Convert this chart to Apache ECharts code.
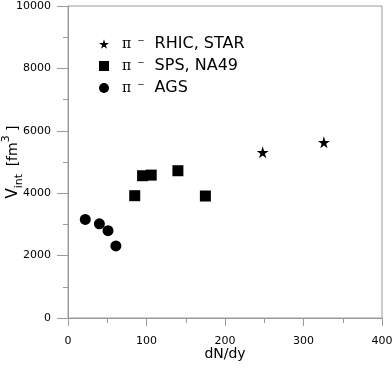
<!DOCTYPE html>
<html>
<head>
<meta charset="utf-8">
<script src="https://cdn.jsdelivr.net/npm/echarts@6/dist/echarts.min.js"></script>
<style>
  html, body { margin: 0; padding: 0; background: #fff; }
  #chart { width: 392px; height: 369px; }
</style>
</head>
<body>
<div id="chart"></div>
<script>
// dN/dy vs V_int
var starData = [[248, 5310], [326, 5630]];
var spsData = [[85, 3920], [95, 4560], [106, 4580], [140, 4720], [175, 3910]];
var agsData = [[22, 3160], [40, 3020], [51, 2800], [61, 2310]];

var seriesNames = ['RHIC, STAR', 'SPS, NA49', 'AGS'];
var xTicks = [0, 100, 200, 300, 400];
var yTicks = [0, 2000, 4000, 6000, 8000, 10000];

var starPath = 'path://M50,0 L61,35 L98,35 L68,57 L79,91 L50,70 L21,91 L32,57 L2,35 L39,35 Z';

~function () {
    var myChart = echarts.init(document.getElementById('chart'));
    var axisColor = '#9a9a9a';
    var font = 'DejaVu Sans';
    var option = {
        backgroundColor: '#fff',
        animation: false,
        textStyle: {fontFamily: font},
        grid: {
            left: 68, top: 6, right: 10, bottom: 51,
            outerBoundsMode: 'none',
            containLabel: false,
            show: true, borderColor: axisColor, borderWidth: 1
        },
        legend: {
            orient: 'vertical',
            left: 94,
            top: 31,
            itemWidth: 10,
            itemHeight: 10,
            itemGap: 6,
            data: [
                {name: seriesNames[0], icon: starPath},
                {name: seriesNames[1], icon: 'rect'},
                {name: seriesNames[2], icon: 'circle'}
            ],
            formatter: function (name) {
                return '{p|π}{m|⁻}{t|' + name + '}';
            },
            textStyle: {
                rich: {
                    p: {fontSize: 14, fontFamily: 'DejaVu Serif', color: '#000', padding: [0, 6, 0, 8], lineHeight: 17},
                    m: {fontSize: 14, color: '#000', padding: [0, 10, 0, 0], lineHeight: 17},
                    t: {fontSize: 16, color: '#000', lineHeight: 17}
                }
            }
        },
        xAxis: {
            type: 'value',
            min: 0, max: 400, interval: 100,
            name: 'dN/dy',
            nameLocation: 'middle',
            nameGap: 29,
            nameMoveOverlap: false,
            nameTextStyle: {fontSize: 14, color: '#000'},
            axisLine: {lineStyle: {color: axisColor}},
            axisTick: {show: true, length: 8, inside: false, lineStyle: {color: axisColor}},
            minorTick: {show: true, splitNumber: 2, length: 5, lineStyle: {color: axisColor}},
            axisLabel: {
                fontSize: 11, color: '#000', margin: 18,
                formatter: function (v) { return xTicks.indexOf(v) >= 0 ? String(v) : ''; }
            },
            splitLine: {show: false}
        },
        yAxis: {
            type: 'value',
            min: 0, max: 10000, interval: 2000,
            name: '{v|V}{s|int}  {b|[fm}{p|3}{b| ]}',
            nameLocation: 'middle',
            nameRotate: 90,
            nameGap: 43,
            nameMoveOverlap: false,
            nameTextStyle: {
                color: '#000',
                rich: {
                    v: {fontSize: 15, lineHeight: 24, color: '#000'},
                    s: {fontSize: 11, lineHeight: 12, verticalAlign: 'bottom', color: '#000'},
                    b: {fontSize: 14, lineHeight: 24, color: '#000'},
                    p: {fontSize: 11, lineHeight: 12, verticalAlign: 'top', color: '#000'}
                }
            },
            axisLine: {lineStyle: {color: axisColor}},
            axisTick: {show: true, length: 11, lineStyle: {color: axisColor}},
            minorTick: {show: true, splitNumber: 2, length: 5, lineStyle: {color: axisColor}},
            axisLabel: {
                fontSize: 11, color: '#000', margin: 17,
                formatter: function (v) { return yTicks.indexOf(v) >= 0 ? String(v) : ''; }
            },
            splitLine: {show: false}
        },
        series: [
            {
                name: seriesNames[0],
                type: 'scatter',
                symbol: starPath,
                symbolSize: 12,
                itemStyle: {color: '#000', opacity: 1},
                data: starData
            },
            {
                name: seriesNames[1],
                type: 'scatter',
                symbol: 'rect',
                symbolSize: 11,
                itemStyle: {color: '#000', opacity: 1},
                data: spsData
            },
            {
                name: seriesNames[2],
                type: 'scatter',
                symbol: 'circle',
                symbolSize: 11,
                itemStyle: {color: '#000', opacity: 1},
                data: agsData
            }
        ]
    };
    myChart.setOption(option);
}();
</script>
</body>
</html>
